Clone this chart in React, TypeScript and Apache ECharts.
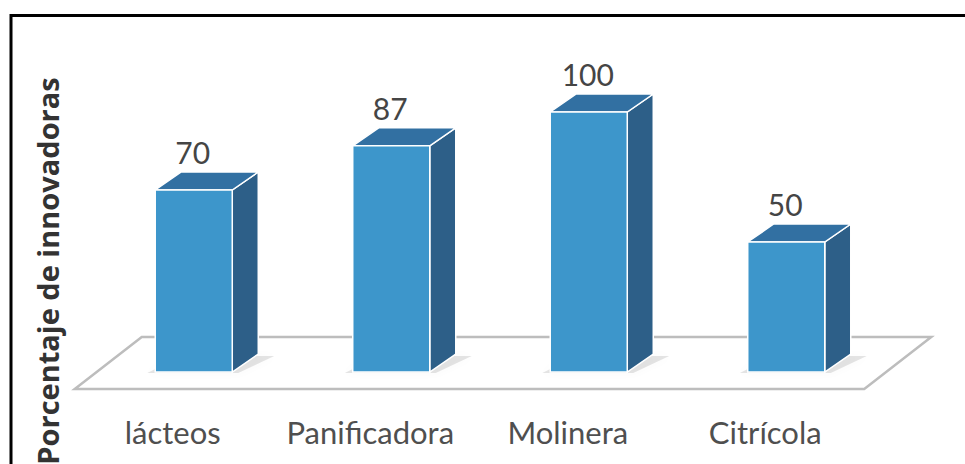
import React, { useEffect, useRef } from "react";
import * as echarts from "echarts";

const categories = ["lácteos", "Panificadora", "Molinera", "Citrícola"];
const values = [70, 87, 100, 50];
const yAxisTitle = "Porcentaje de innovadoras";

const FRONT = "#3d96cb";
const SIDE = "#2d5f88";
const TOP = "#3270a2";
const DX = 26;
const DY = -18;

export default function App() {
  const ref = useRef<HTMLDivElement>(null);

  useEffect(() => {
    const chart = echarts.init(ref.current as HTMLDivElement, null, { renderer: "svg" });

    const renderFloor = (params: any, api: any) => {
      const first = api.coord([0, 0]);
      const last = api.coord([categories.length - 1, 0]);
      const fy = first[1] + 17;
      const by = first[1] - 35;
      return {
        type: "polygon",
        shape: {
          points: [
            [first[0] - 119, fy],
            [last[0] + 78, fy],
            [last[0] + 145, by],
            [first[0] - 52, by],
          ],
        },
        style: { fill: "#ffffff", stroke: "#bdbdbd", lineWidth: 2.5 },
      };
    };

    const renderBar = (params: any, api: any) => {
      const idx = api.value(0);
      const val = api.value(1);
      const base = api.coord([idx, 0]);
      const topP = api.coord([idx, val]);
      const bw = api.size([1, 0])[0] * 0.39;
      const l = base[0] - bw / 2;
      const r = base[0] + bw / 2;
      const b = base[1];
      const t = topP[1];
      return {
        type: "group",
        children: [
          {
            type: "polygon",
            shape: {
              points: [
                [l - 8, b + 1],
                [r + 6, b + 1],
                [r + DX + 16, b + DY + 2],
                [l + DX, b + DY + 2],
              ],
            },
            style: {
              fill: "rgba(0,0,0,0.10)",
              shadowBlur: 8,
              shadowColor: "rgba(0,0,0,0.22)",
            },
          },
          {
            type: "polygon",
            shape: { points: [[r, t], [r + DX, t + DY], [r + DX, b + DY], [r, b]] },
            style: { fill: SIDE, stroke: "#ffffff", lineWidth: 1.5 },
          },
          {
            type: "polygon",
            shape: { points: [[l, t], [l + DX, t + DY], [r + DX, t + DY], [r, t]] },
            style: { fill: TOP, stroke: "#ffffff", lineWidth: 1.5 },
          },
          {
            type: "rect",
            shape: { x: l, y: t, width: r - l, height: b - t },
            style: { fill: FRONT, stroke: "#ffffff", lineWidth: 1.5 },
          },
          {
            type: "text",
            x: base[0] - 1,
            y: t + DY - 5,
            style: {
              text: String(val),
              fill: "#454545",
              font: "30px Lato",
              align: "center",
              verticalAlign: "bottom",
            },
          },
        ],
      };
    };

    const option: any = {
      animation: false,
      backgroundColor: "#ffffff",
      grid: { left: 95, right: 80, top: 112, bottom: 92 },
      xAxis: {
        type: "category",
        data: categories,
        axisLine: { show: false },
        axisTick: { show: false },
        splitLine: { show: false },
        axisLabel: {
          interval: 0,
          margin: 44,
          fontSize: 31,
          color: "#4f4f4f",
          fontFamily: "Lato",
          padding: [0, 42, 0, 0],
        },
      },
      yAxis: { type: "value", min: 0, max: 100, show: false },
      graphic: [
        {
          type: "rect",
          shape: { x: 11, y: 15.5, width: 1000, height: 500 },
          style: { fill: "none", stroke: "#000000", lineWidth: 3 },
          z: 100,
        },
        {
          type: "text",
          x: 47,
          y: 271,
          rotation: Math.PI / 2,
          style: {
            text: yAxisTitle,
            fill: "#333333",
            font: "bold 29px 'Open Sans'",
            align: "center",
            verticalAlign: "middle",
          },
        },
      ],
      series: [
        {
          type: "custom",
          data: [[0, 0]],
          encode: { x: 0, y: 1 },
          renderItem: renderFloor,
          z: 1,
          silent: true,
        },
        {
          type: "custom",
          data: values.map((v, i) => [i, v]),
          encode: { x: 0, y: 1 },
          renderItem: renderBar,
          z: 2,
        },
      ],
    };

    chart.setOption(option);
    return () => chart.dispose();
  }, []);

  return (
    <div
      ref={ref}
      style={{ position: "fixed", left: 0, top: 0, width: 965, height: 464 }}
    />
  );
}
